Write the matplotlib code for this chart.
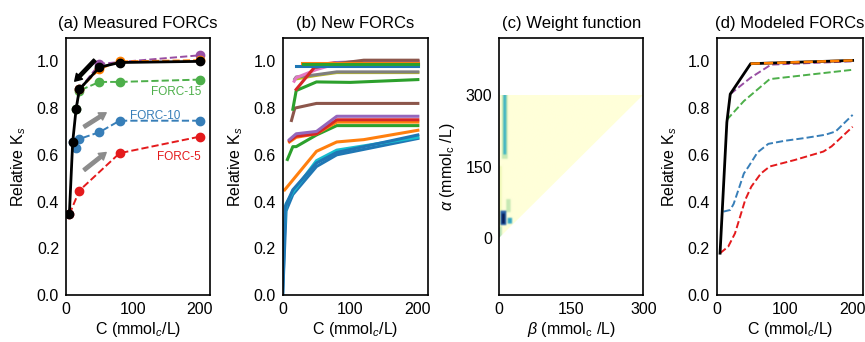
import numpy as np
import matplotlib as mpl

mpl.use("Agg")

import matplotlib.pyplot as plt
from matplotlib.patches import Polygon

plt.rcParams["font.family"] = ["Liberation Sans", "DejaVu Sans"]
plt.rcParams["mathtext.fontset"] = "custom"
plt.rcParams["mathtext.rm"] = "Liberation Sans"
plt.rcParams["mathtext.it"] = "Liberation Sans:italic"
plt.rcParams["font.size"] = 11.5

# ---- (a) measured FORCs ----
main_c = [5, 10, 15, 20, 50, 80, 200]
main_k = [0.345, 0.655, 0.795, 0.88, 0.975, 0.995, 1.0]

forc5_c = [5, 20, 80, 200]
forc5_k = [0.345, 0.447, 0.607, 0.678]
forc10_c = [10, 15, 20, 50, 80, 200]
forc10_k = [0.655, 0.628, 0.668, 0.697, 0.746, 0.746]
forc15_c = [15, 20, 50, 80, 200]
forc15_k = [0.795, 0.875, 0.912, 0.912, 0.922]
forc20o_c = [20, 50, 80, 200]
forc20o_k = [0.88, 0.967, 1.0, 1.005]
forc20p_c = [20, 50, 80, 200]
forc20p_k = [0.88, 0.989, 0.997, 1.026]

# ---- (b) new FORCs: (color, C, Ks) ----
new_forcs = [
    ("#1f77b4", [0, 5, 15, 50, 80, 200], [0.0, 0.36, 0.43, 0.55, 0.60, 0.67]),
    ("#17becf", [3, 5, 15, 50, 80, 200], [0.30, 0.39, 0.44, 0.575, 0.62, 0.675]),
    ("#1f77b4", [0, 4, 15, 50, 80, 200], [0.0, 0.38, 0.45, 0.565, 0.61, 0.685]),
    ("#ff7f0e", [3, 50, 80, 120, 200], [0.45, 0.615, 0.655, 0.665, 0.705]),
    ("#2ca02c", [7, 15, 20, 50, 80, 200], [0.58, 0.635, 0.635, 0.685, 0.725, 0.725]),
    ("#ff7f0e", [10, 20, 50, 80, 200], [0.655, 0.675, 0.69, 0.74, 0.74]),
    ("#d62728", [10, 20, 50, 80, 200], [0.66, 0.68, 0.69, 0.75, 0.75]),
    ("#9467bd", [10, 20, 50, 80, 200], [0.665, 0.69, 0.70, 0.765, 0.765]),
    ("#8c564b", [13, 18, 50, 200], [0.747, 0.80, 0.82, 0.82]),
    ("#2ca02c", [15, 20, 50, 100, 200], [0.795, 0.875, 0.912, 0.91, 0.922]),
    ("#bcbd22", [20, 50, 80, 200], [0.925, 0.94, 0.952, 0.952]),
    ("#7f7f7f", [18, 20, 50, 80, 200], [0.925, 0.933, 0.943, 0.955, 0.955]),
    ("#e377c2", [17, 20, 50, 80, 200], [0.915, 0.93, 0.965, 0.99, 1.0]),
    ("#d62728", [20, 50, 80, 200], [0.88, 0.985, 0.995, 1.0]),
    ("#9467bd", [50, 80, 200], [0.975, 0.995, 1.002]),
    ("#8c564b", [50, 80, 120, 200], [0.975, 0.99, 1.005, 1.005]),
    ("#1f77b4", [20, 200], [0.982, 0.982]),
    ("#ff7f0e", [28, 200], [0.992, 0.992]),
    ("#2ca02c", [30, 200], [0.99, 0.99]),
]

# ---- (c) weight function: background 0, hot spots (beta0, beta1, alpha0, alpha1, w) ----
w_step = 3
w_spots = [
    (0, 6, 0, 24, 0.28),
    (0, 6, 24, 150, 0.1),
    (6, 18, 165, 300, 0.25),
    (9, 15, 174, 300, 0.5),
    (15, 24, 54, 81, 0.25),
    (3, 15, 27, 57, 0.75),
    (6, 12, 30, 51, 1.0),
    (18, 27, 30, 42, 0.55),
]

# ---- (d) modeled FORCs ----
mod_main_c = [5, 15, 20, 50, 200]
mod_main_k = [0.179, 0.739, 0.86, 0.99, 1.004]
mod_orange_c = [50, 200]
mod_orange_k = [0.99, 1.004]
mod_purple_c = [20, 50, 80, 200]
mod_purple_k = [0.86, 0.93, 0.986, 1.0]
mod_green_c = [15, 40, 78, 200]
mod_green_k = [0.75, 0.83, 0.924, 0.964]
mod_blue_c = [10, 20, 25, 32, 40, 47, 60, 76, 100, 130, 160, 175, 200]
mod_blue_k = [0.357, 0.364, 0.39, 0.45, 0.52, 0.55, 0.61, 0.647, 0.66, 0.672, 0.686, 0.70, 0.771]
mod_red_c = [5, 17, 27, 35, 42, 51, 65, 78, 115, 157, 169, 200]
mod_red_k = [0.179, 0.207, 0.264, 0.34, 0.407, 0.464, 0.52, 0.55, 0.578, 0.614, 0.636, 0.72]

fig = plt.figure(figsize=(8.65, 3.42), dpi=100)
ax_a = fig.add_axes([0.0763, 0.1374, 0.1665, 0.7515])
ax_b = fig.add_axes([0.3268, 0.1374, 0.168, 0.7515])
ax_c = fig.add_axes([0.5772, 0.1374, 0.1665, 0.7515])
ax_d = fig.add_axes([0.8285, 0.1374, 0.169, 0.7515])

for ax in (ax_a, ax_b, ax_c, ax_d):
    ax.tick_params(length=0, pad=5)
    for s in ax.spines.values():
        s.set_linewidth(1.2)

ks_axes = (ax_a, ax_b, ax_d)
for ax in ks_axes:
    ax.set_xlim(0, 215)
    ax.set_ylim(0, 1.1)
    ax.set_xticks([0, 100, 200])
    ax.set_yticks([0.0, 0.2, 0.4, 0.6, 0.8, 1.0])
    ax.set_xlabel(r"C (mmol$_c$/L)", labelpad=2)
    ax.set_ylabel(r"Relative K$_s$", labelpad=6)

# (a)
ax_a.plot(forc5_c, forc5_k, "--o", color="#e41a1c", lw=1.4, ms=6)
ax_a.plot(forc10_c, forc10_k, "--o", color="#377eb8", lw=1.4, ms=6)
ax_a.plot(forc15_c, forc15_k, "--o", color="#4daf4a", lw=1.4, ms=6)
ax_a.plot(forc20p_c, forc20p_k, "--o", color="#984ea3", lw=1.4, ms=6)
ax_a.plot(forc20o_c, forc20o_k, "--o", color="#ff7f00", lw=1.4, ms=6)
ax_a.plot(main_c, main_k, "-o", color="black", lw=2, ms=6)
ax_a.text(165, 0.87, "FORC-15", color="#4daf4a", fontsize=8.5, ha="center", va="center")
ax_a.text(133, 0.768, "FORC-10", color="#377eb8", fontsize=8.5, ha="center", va="center")
ax_a.text(168, 0.59, "FORC-5", color="#e41a1c", fontsize=8.5, ha="center", va="center")
arrow_style = "simple,head_length=0.45,head_width=0.55,tail_width=0.22"
ax_a.annotate("", xy=(60, 0.61), xytext=(27, 0.535),
              arrowprops=dict(arrowstyle=arrow_style, color="#8c8c8c", mutation_scale=11,
                              shrinkA=0, shrinkB=0))
ax_a.annotate("", xy=(60, 0.78), xytext=(27, 0.72),
              arrowprops=dict(arrowstyle=arrow_style, color="#8c8c8c", mutation_scale=11,
                              shrinkA=0, shrinkB=0))
ax_a.annotate("", xy=(13, 0.915), xytext=(43, 1.005),
              arrowprops=dict(arrowstyle=arrow_style, color="black", mutation_scale=11,
                              shrinkA=0, shrinkB=0))
ax_a.set_title("(a) Measured FORCs", fontsize=12, pad=7)

# (b)
for color, cs, ks in new_forcs:
    ax_b.plot(cs, ks, "-", color=color, lw=2.2)
ax_b.set_title("(b) New FORCs", fontsize=12, pad=7)

# (c)
n_cells = 300 // w_step
weights = np.zeros((n_cells, n_cells))
for b0, b1, a0, a1, w in w_spots:
    weights[a0 // w_step:a1 // w_step, b0 // w_step:b1 // w_step] = w
img = ax_c.imshow(weights, origin="lower", extent=(0, 300, 0, 300), cmap="YlGnBu",
                  vmin=0, vmax=1, interpolation="bicubic", aspect="auto")
tri = Polygon([(0, 0), (0, 300), (300, 300)], closed=True, transform=ax_c.transData)
img.set_clip_path(tri)
ax_c.set_xlim(0, 300)
ax_c.set_ylim(-118, 418)
ax_c.set_xticks([0, 150, 300])
ax_c.set_yticks([0, 150, 300])
ax_c.set_xlabel(r"$\beta$ (mmol$_\mathrm{c}$ /L)", labelpad=2)
ax_c.set_ylabel(r"$\alpha$ (mmol$_\mathrm{c}$ /L)", labelpad=6)
ax_c.set_title("(c) Weight function", fontsize=12, pad=7)

# (d)
ax_d.plot(mod_red_c, mod_red_k, "--", color="#e41a1c", lw=1.4)
ax_d.plot(mod_blue_c, mod_blue_k, "--", color="#377eb8", lw=1.4)
ax_d.plot(mod_green_c, mod_green_k, "--", color="#4daf4a", lw=1.4)
ax_d.plot(mod_purple_c, mod_purple_k, "--", color="#984ea3", lw=1.4)
ax_d.plot(mod_main_c, mod_main_k, "-", color="black", lw=2)
ax_d.plot(mod_orange_c, mod_orange_k, "--", color="#ff7f00", lw=1.8)
ax_d.set_title("(d) Modeled FORCs", fontsize=12, pad=7)

plt.savefig("out.png", dpi=100)
